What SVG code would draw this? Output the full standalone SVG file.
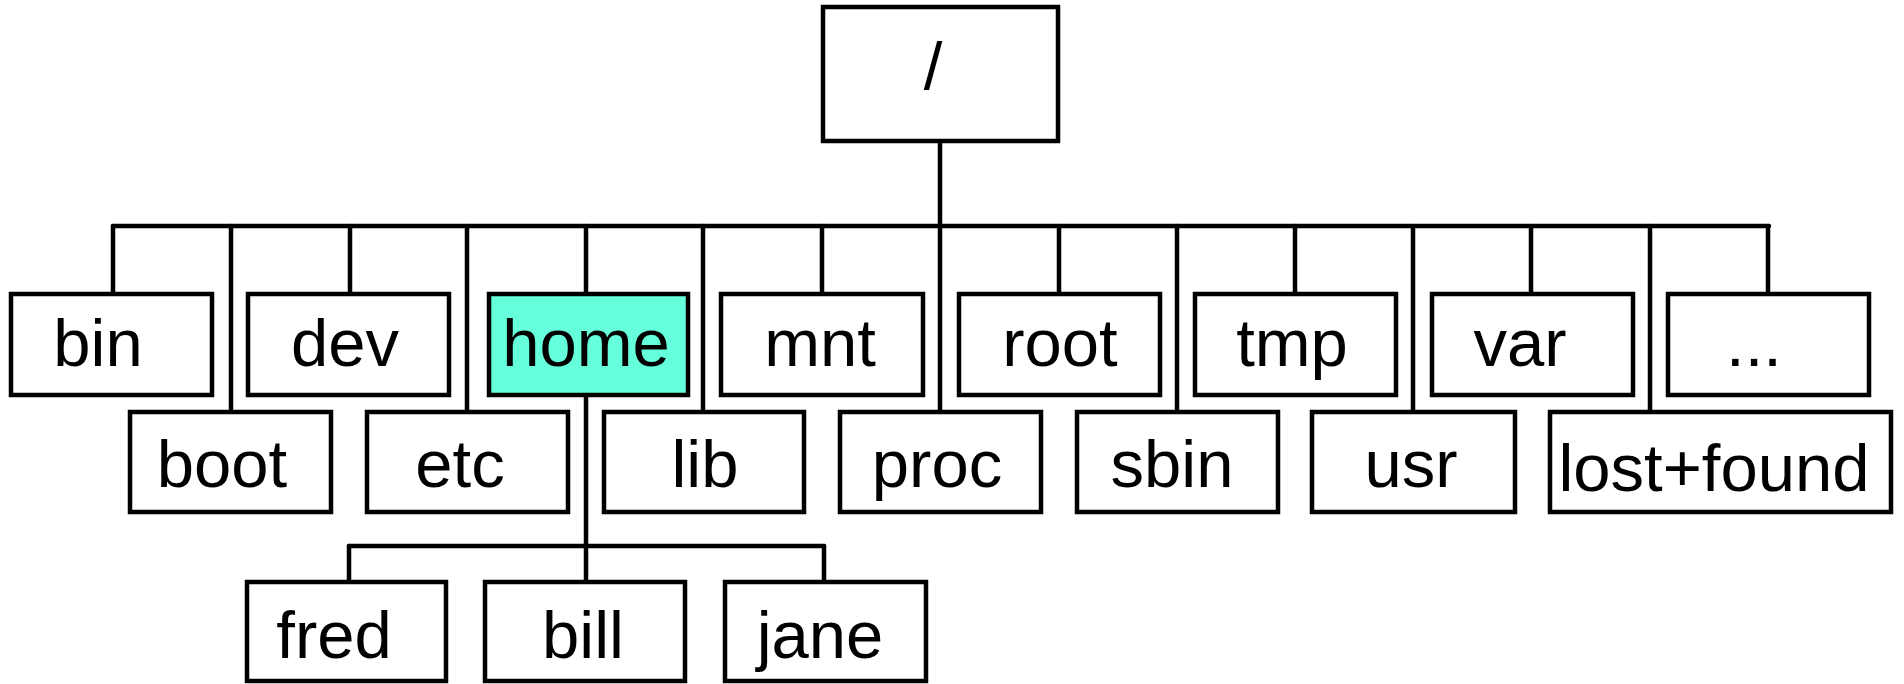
<svg xmlns="http://www.w3.org/2000/svg" width="1904" height="684" viewBox="0 0 1904 684">
<style>
  .box { fill: #ffffff; stroke: #000000; stroke-width: 4.5; }
  .hl { fill: #66ffdc; }
  .lbl { font-family: "Liberation Sans", Arial, sans-serif; font-size: 67px; fill: #000000; text-anchor: middle; }
  .conn { stroke: #000000; stroke-width: 4.5; fill: none; stroke-linecap: round; }
</style>
<rect width="1904" height="684" fill="#ffffff"/>
<g id="connectors" class="conn">
  <path d="M940 141 V412"/>
  <path d="M113 226 H1769"/>
  <path d="M113 226 V294 M350 226 V294 M586 226 V294 M822 226 V294 M1059 226 V294 M1295 226 V294 M1531 226 V294 M1768 226 V294"/>
  <path d="M231 226 V412 M467 226 V412 M703 226 V412 M1177 226 V412 M1413 226 V412 M1650 226 V412"/>
  <path d="M586 395 V582"/>
  <path d="M349 546 H824"/>
  <path d="M349 546 V582 M824 546 V582"/>
</g>
<g id="node-root"><rect class="box" x="823" y="7" width="235" height="134"/><text class="lbl" x="933" y="89">/</text></g>
<g id="node-bin"><rect class="box" x="11" y="294" width="201" height="101"/><text class="lbl" x="98" y="366">bin</text></g>
<g id="node-dev"><rect class="box" x="248" y="294" width="201" height="101"/><text class="lbl" x="345" y="366">dev</text></g>
<g id="node-home"><rect class="box hl" x="489" y="294" width="199" height="101"/><text class="lbl" x="586" y="366">home</text></g>
<g id="node-mnt"><rect class="box" x="721" y="294" width="202" height="101"/><text class="lbl" x="820" y="366">mnt</text></g>
<g id="node-rootdir"><rect class="box" x="959" y="294" width="201" height="101"/><text class="lbl" x="1060" y="366">root</text></g>
<g id="node-tmp"><rect class="box" x="1195" y="294" width="201" height="101"/><text class="lbl" x="1292" y="366">tmp</text></g>
<g id="node-var"><rect class="box" x="1432" y="294" width="201" height="101"/><text class="lbl" x="1520" y="366">var</text></g>
<g id="node-more"><rect class="box" x="1668" y="294" width="201" height="101"/><text class="lbl" x="1754" y="366">...</text></g>
<g id="node-boot"><rect class="box" x="130" y="412" width="201" height="100"/><text class="lbl" x="222" y="487">boot</text></g>
<g id="node-etc"><rect class="box" x="367" y="412" width="201" height="100"/><text class="lbl" x="460" y="487">etc</text></g>
<g id="node-lib"><rect class="box" x="604" y="412" width="200" height="100"/><text class="lbl" x="705" y="487">lib</text></g>
<g id="node-proc"><rect class="box" x="840" y="412" width="201" height="100"/><text class="lbl" x="937" y="487">proc</text></g>
<g id="node-sbin"><rect class="box" x="1077" y="412" width="201" height="100"/><text class="lbl" x="1172" y="487">sbin</text></g>
<g id="node-usr"><rect class="box" x="1312" y="412" width="203" height="100"/><text class="lbl" x="1411" y="487">usr</text></g>
<g id="node-lostfound"><rect class="box" x="1550" y="412" width="341" height="100"/><text class="lbl" x="1714" y="491">lost+found</text></g>
<g id="node-fred"><rect class="box" x="247" y="582" width="199" height="99"/><text class="lbl" x="334" y="658">fred</text></g>
<g id="node-bill"><rect class="box" x="485" y="582" width="200" height="99"/><text class="lbl" x="583" y="658">bill</text></g>
<g id="node-jane"><rect class="box" x="725" y="582" width="201" height="99"/><text class="lbl" x="820" y="658">jane</text></g>
</svg>
